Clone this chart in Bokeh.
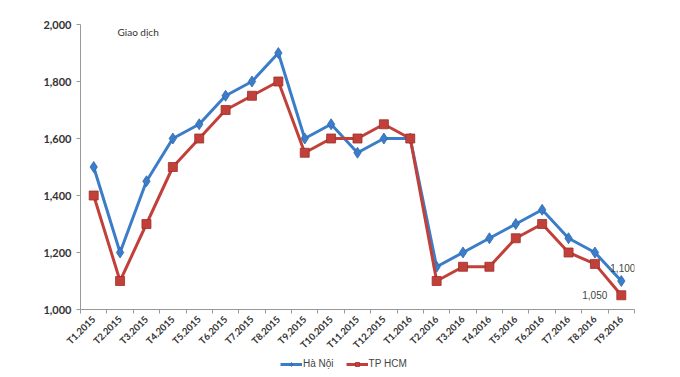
import math
from bokeh.plotting import figure
from bokeh.layouts import column
from bokeh.models import ColumnDataSource, FixedTicker, NumeralTickFormatter, Legend, LegendItem, Range1d, Label
from bokeh.embed import file_html
from bokeh.resources import INLINE

months = ["T1.2015", "T2.2015", "T3.2015", "T4.2015", "T5.2015", "T6.2015", "T7.2015",
          "T8.2015", "T9.2015", "T10.2015", "T11.2015", "T12.2015", "T1.2016", "T2.2016",
          "T3.2016", "T4.2016", "T5.2016", "T6.2016", "T7.2016", "T8.2016", "T9.2016"]
ha_noi = [1500, 1200, 1450, 1600, 1650, 1750, 1800, 1900, 1600, 1650, 1550, 1600,
          1600, 1150, 1200, 1250, 1300, 1350, 1250, 1200, 1100]
tp_hcm = [1400, 1100, 1300, 1500, 1600, 1700, 1750, 1800, 1550, 1600, 1600, 1650,
          1600, 1100, 1150, 1150, 1250, 1300, 1200, 1160, 1050]
y_ticks = [1000, 1200, 1400, 1600, 1800, 2000]
series_names = ["Hà Nội", "TP HCM"]

BLUE = "#3b7dc8"
RED = "#c2403a"

n = len(months)
xs = [i + 0.5 for i in range(n)]
src = ColumnDataSource(dict(x=xs, hn=ha_noi, hcm=tp_hcm))

p = figure(width=680, height=357, output_backend="svg", toolbar_location=None,
           x_range=Range1d(0, n), y_range=Range1d(1000, 2000),
           min_border_left=80, min_border_right=46, min_border_top=24, min_border_bottom=48)
p.outline_line_color = None
p.xgrid.visible = False
p.ygrid.visible = False
p.background_fill_color = "white"
p.border_fill_color = "white"

# x axis: labels at centres, tick marks at category boundaries
p.xaxis.ticker = FixedTicker(ticks=xs, minor_ticks=list(range(n + 1)))
p.xaxis.major_label_overrides = {x: m for x, m in zip(xs, months)}
p.xaxis.major_label_orientation = math.pi / 4
p.xaxis.major_tick_line_color = None
p.xaxis.minor_tick_line_color = "#999999"
p.xaxis.minor_tick_out = 4
p.xaxis.minor_tick_in = 0
p.xaxis.axis_line_color = "#999999"
p.xaxis.major_label_text_font = "Lato"
p.xaxis.major_label_text_font_style = "bold"
p.xaxis.major_label_text_font_size = "9.5px"
p.xaxis.major_label_text_color = "#333333"
p.xaxis.major_label_standoff = 2

p.yaxis.ticker = FixedTicker(ticks=y_ticks)
p.yaxis.formatter = NumeralTickFormatter(format="0,0")
p.yaxis.axis_line_color = "#999999"
p.yaxis.major_tick_line_color = "#999999"
p.yaxis.major_tick_out = 4
p.yaxis.major_tick_in = 0
p.yaxis.minor_tick_line_color = None
p.yaxis.major_label_text_font = "Lato"
p.yaxis.major_label_text_font_style = "bold"
p.yaxis.major_label_text_font_size = "11px"
p.yaxis.major_label_text_color = "#333333"
p.yaxis.major_label_standoff = 5

p.line("x", "hn", source=src, line_color=BLUE, line_width=3)
p.scatter("x", "hn", source=src, marker="diamond", size=11, fill_color=BLUE,
          line_color="#2f68ad", line_width=0.8)
p.line("x", "hcm", source=src, line_color=RED, line_width=3)
p.scatter("x", "hcm", source=src, marker="square", size=9, fill_color=RED,
          line_color="#9e2e2a", line_width=0.8)

p.add_layout(Label(x=xs[-1], y=ha_noi[-1], text=f"{ha_noi[-1]:,}", x_offset=-11, y_offset=13,
                   text_align="left", text_baseline="middle", text_font="Liberation Sans",
                   text_font_size="10px", text_color="#444444"))
p.add_layout(Label(x=xs[-1], y=tp_hcm[-1], text=f"{tp_hcm[-1]:,}", x_offset=-14, y_offset=0,
                   text_align="right", text_baseline="middle", text_font="Liberation Sans",
                   text_font_size="10px", text_color="#444444"))

p.add_layout(Label(x=37, y=272, x_units="screen", y_units="screen", text="Giao dịch",
                   text_font="Lato", text_font_size="10px", text_color="#333333"))

# legend strip below the chart (series drawn off-view, only legend glyphs show)
lg = figure(width=680, height=20, output_backend="svg", toolbar_location=None,
            x_axis_type=None, y_axis_type=None, min_border=0,
            x_range=Range1d(0, 1), y_range=Range1d(0, 1))
lg.outline_line_color = None
lg.xgrid.visible = False
lg.ygrid.visible = False
a1 = lg.line("x", "hn", source=src, line_color=BLUE, line_width=3)
b1 = lg.scatter("x", "hn", source=src, marker="diamond", size=9, fill_color=BLUE,
                line_color="#2f68ad", line_width=0.8)
a2 = lg.line("x", "hcm", source=src, line_color=RED, line_width=3)
b2 = lg.scatter("x", "hcm", source=src, marker="square", size=7, fill_color=RED,
                line_color="#9e2e2a", line_width=0.8)
legend = Legend(items=[LegendItem(label=series_names[0], renderers=[a1, b1]),
                       LegendItem(label=series_names[1], renderers=[a2, b2])],
                location=(200, 8), orientation="horizontal",
                background_fill_alpha=0, border_line_color=None,
                label_text_font="Liberation Sans", label_text_font_size="10px",
                label_text_color="#444444", glyph_width=22, glyph_height=10,
                label_standoff=1, spacing=12, padding=0, margin=0)
lg.add_layout(legend)

open("out.html", "w").write(file_html(column(p, lg, spacing=0), INLINE))
